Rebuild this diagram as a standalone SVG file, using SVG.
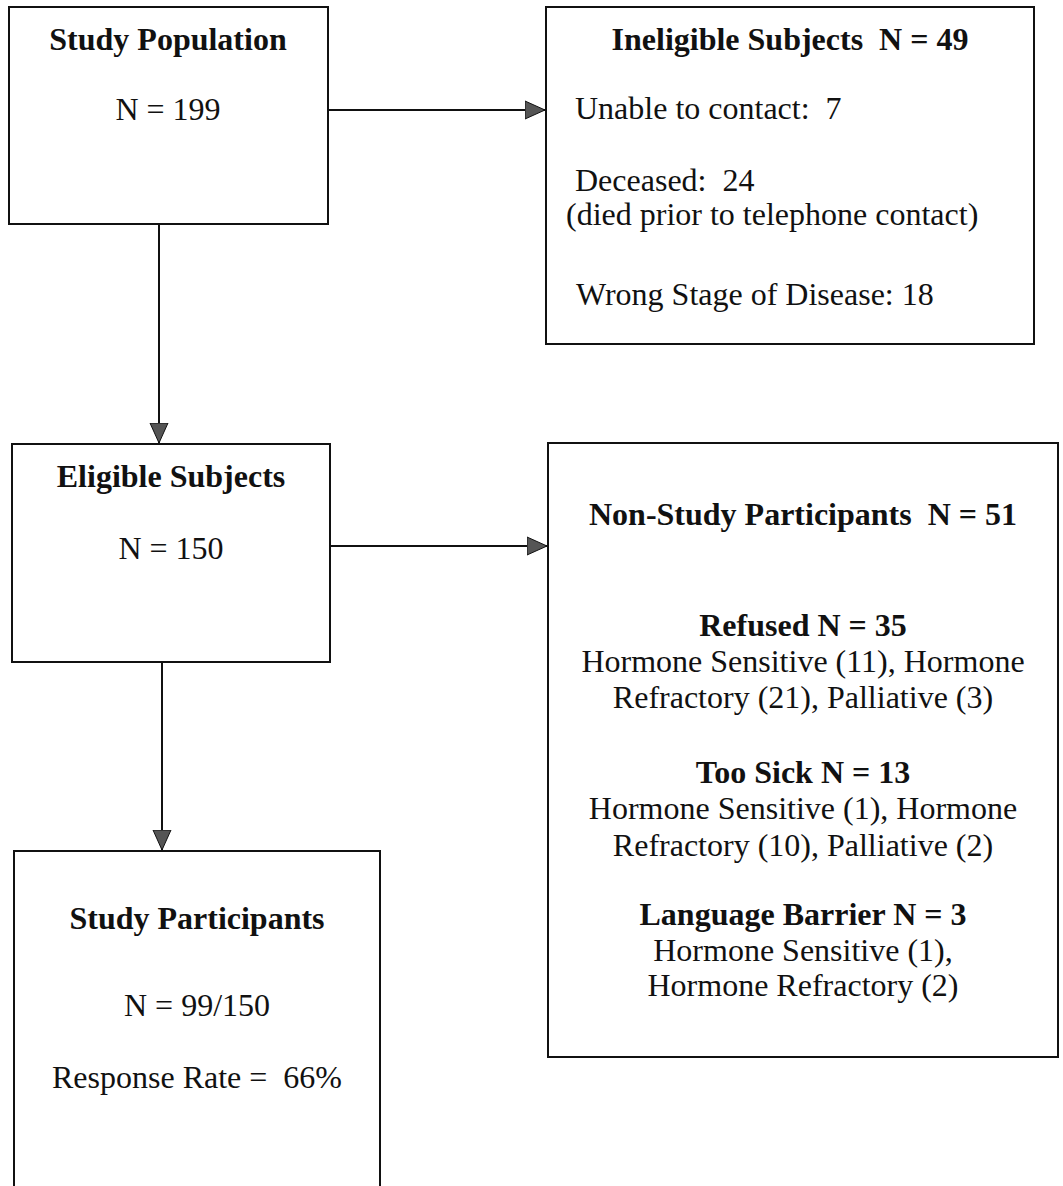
<svg xmlns="http://www.w3.org/2000/svg" width="1063" height="1186" viewBox="0 0 1063 1186">
<style>
.box{fill:#fff;stroke:#111;stroke-width:2}
.t{font-family:"Liberation Serif","Times New Roman",serif;font-size:32px;fill:#111}
.b{font-weight:bold}
.m{text-anchor:middle}
.c{stroke:#111;stroke-width:2;fill:none}
</style>
<defs>
<marker id="ah" markerUnits="userSpaceOnUse" markerWidth="22" markerHeight="22" refX="20" refY="10" orient="auto">
<path d="M0,1 L20,10 L0,19 z" fill="#555" stroke="#111" stroke-width="1"/>
</marker>
</defs>
<rect width="1063" height="1186" fill="#fff"/>
<g id="connectors">
<line class="c" x1="328" y1="110" x2="545" y2="110" marker-end="url(#ah)"/>
<line class="c" x1="159" y1="224" x2="159" y2="443" marker-end="url(#ah)"/>
<line class="c" x1="330" y1="546" x2="547" y2="546" marker-end="url(#ah)"/>
<line class="c" x1="162" y1="662" x2="162" y2="850" marker-end="url(#ah)"/>
</g>
<g id="study-population">
<rect class="box" x="9" y="7" width="319" height="217"/>
<text class="t b m" x="168" y="50">Study Population</text>
<text class="t m" x="168" y="120">N = 199</text>
</g>
<g id="ineligible">
<rect class="box" x="546" y="7" width="488" height="337"/>
<text class="t b m" x="790" y="50" xml:space="preserve">Ineligible Subjects  N = 49</text>
<text class="t" x="575" y="119" xml:space="preserve">Unable to contact:  7</text>
<text class="t" x="575" y="191" xml:space="preserve">Deceased:  24</text>
<text class="t" x="566" y="225">(died prior to telephone contact)</text>
<text class="t" x="576" y="305">Wrong Stage of Disease: 18</text>
</g>
<g id="eligible">
<rect class="box" x="12" y="444" width="318" height="218"/>
<text class="t b m" x="171" y="487">Eligible Subjects</text>
<text class="t m" x="171" y="559">N = 150</text>
</g>
<g id="non-study">
<rect class="box" x="548" y="443" width="510" height="614"/>
<text class="t b m" x="803" y="525" xml:space="preserve">Non-Study Participants  N = 51</text>
<text class="t b m" x="803" y="636">Refused N = 35</text>
<text class="t m" x="803" y="672">Hormone Sensitive (11), Hormone</text>
<text class="t m" x="803" y="708">Refractory (21), Palliative (3)</text>
<text class="t b m" x="803" y="783">Too Sick N = 13</text>
<text class="t m" x="803" y="819">Hormone Sensitive (1), Hormone</text>
<text class="t m" x="803" y="856">Refractory (10), Palliative (2)</text>
<text class="t b m" x="803" y="925">Language Barrier N = 3</text>
<text class="t m" x="803" y="961">Hormone Sensitive (1),</text>
<text class="t m" x="803" y="996">Hormone Refractory (2)</text>
</g>
<g id="study-participants">
<path class="box" d="M14,1190 L14,851 L380,851 L380,1190"/>
<text class="t b m" x="197" y="929">Study Participants</text>
<text class="t m" x="197" y="1016">N = 99/150</text>
<text class="t m" x="197" y="1088" xml:space="preserve">Response Rate =  66%</text>
</g>
</svg>
